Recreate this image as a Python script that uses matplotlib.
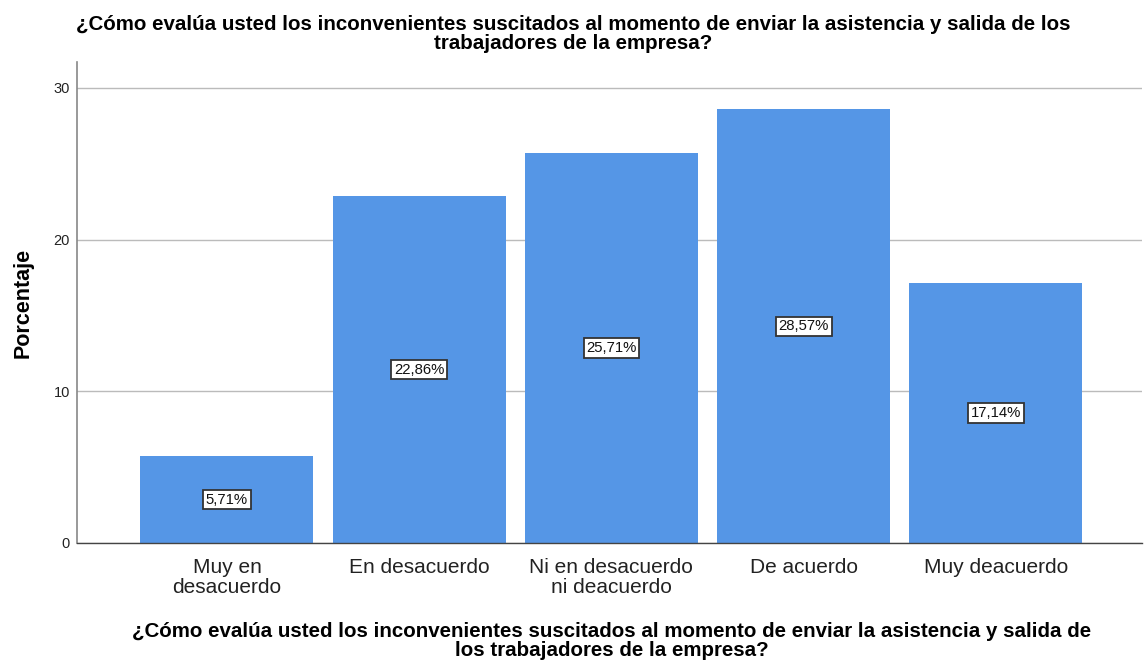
import matplotlib
matplotlib.use("Agg")
import matplotlib.pyplot as plt

categories = ["Muy en\ndesacuerdo", "En desacuerdo", "Ni en desacuerdo\nni deacuerdo", "De acuerdo", "Muy deacuerdo"]
values = [5.71, 22.86, 25.71, 28.57, 17.14]
labels = ["5,71%", "22,86%", "25,71%", "28,57%", "17,14%"]
yticks = [0, 10, 20, 30]
title = "¿Cómo evalúa usted los inconvenientes suscitados al momento de enviar la asistencia y salida de los\ntrabajadores de la empresa?"
xlabel = "¿Cómo evalúa usted los inconvenientes suscitados al momento de enviar la asistencia y salida de\nlos trabajadores de la empresa?"
ylabel = "Porcentaje"

plt.rcParams['font.family'] = ['Liberation Sans', 'DejaVu Sans']

fig = plt.figure(figsize=(11.44, 6.63), dpi=100)
ax = fig.add_axes([77/1144, 1-543/663, (1142-77)/1144, (543-62)/663])

x = list(range(len(values)))
ax.bar(x, values, width=0.9, color="#5596e6", zorder=2)
ax.set_xlim(-0.78, 4.76)
ax.set_ylim(0, 31.7)
ax.set_yticks(yticks)
ax.set_yticklabels([str(t) for t in yticks], fontsize=10.5, color="#222222")
ax.set_xticks(x)
ax.set_xticklabels(categories, fontsize=15, color="#222222", linespacing=1.05)
ax.tick_params(axis='x', length=0, pad=11)
ax.tick_params(axis='y', length=0, pad=5)
ax.yaxis.grid(True, color="#bbbbbb", linewidth=1, zorder=0)
ax.set_axisbelow(True)
for s in ["top", "right"]:
    ax.spines[s].set_visible(False)
ax.spines["left"].set_color("#888888")
ax.spines["left"].set_linewidth(1.2)
ax.spines["bottom"].set_color("#444444")
ax.spines["bottom"].set_linewidth(1)

for xi, v, lab in zip(x, values, labels):
    ax.text(xi, v / 2, lab, ha="center", va="center", fontsize=10.7, color="#111111", zorder=3,
            bbox=dict(boxstyle="square,pad=0.18", facecolor="white", edgecolor="#333333", linewidth=1.3))

fig.text(573/1144, 1-34/663, title, ha="center", va="center", fontsize=14.8, fontweight="bold", linespacing=0.95)
fig.text(612/1144, 1-641/663, xlabel, ha="center", va="center", fontsize=14.8, fontweight="bold", linespacing=0.95)
fig.text(23/1144, 1-303/663, ylabel, ha="center", va="center", rotation=90, fontsize=15.5, fontweight="bold")

fig.savefig("out.png", dpi=100)
